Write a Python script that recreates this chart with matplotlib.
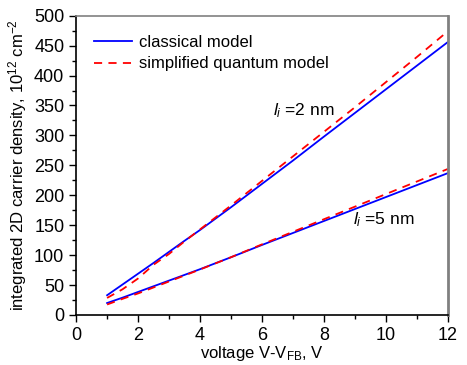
import matplotlib.pyplot as plt
from matplotlib.ticker import MultipleLocator

plt.rcParams['font.family'] = ['Liberation Sans', 'DejaVu Sans']
plt.rcParams['mathtext.fontset'] = 'custom'
plt.rcParams['mathtext.rm'] = 'Liberation Sans'
plt.rcParams['mathtext.it'] = 'Liberation Sans:italic'

# voltage V-V_FB, V
voltage = [1, 1.5, 2, 2.5, 3, 3.5, 4, 5, 6, 7, 8, 9, 10, 11, 12]

# integrated 2D carrier density, 1e12 cm^-2
classical_2nm = [33, 51, 69, 87, 105.5, 124, 142, 180, 219, 258, 298, 337.5, 377, 416.5, 456]
quantum_2nm = [28.5, 43, 61, 84, 102, 123, 143, 183, 224, 265, 306, 347, 389, 431, 474]
classical_5nm = [20, 29, 38.5, 48, 57.5, 67, 76.5, 96.5, 117, 137, 157, 177, 197, 217, 237]
quantum_5nm = [17.5, 27, 36, 46, 56, 66, 76, 96.5, 118, 139, 160, 181, 202, 223, 244]

fig = plt.figure(figsize=(4.67, 3.65), dpi=100)
ax = fig.add_axes([0.163, 0.137, 0.796, 0.820])

ax.plot(voltage, classical_2nm, color='#0000ff', lw=1.3, label='classical model')
ax.plot(voltage, quantum_2nm, color='#ff0000', lw=1.3, ls=(0, (4.5, 3.5)),
        label='simplified quantum model')
ax.plot(voltage, classical_5nm, color='#0000ff', lw=1.3)
ax.plot(voltage, quantum_5nm, color='#ff0000', lw=1.3, ls=(0, (4.5, 3.5)))

ax.set_xlim(0, 12)
ax.set_ylim(0, 500)
ax.xaxis.set_major_locator(MultipleLocator(2))
ax.xaxis.set_minor_locator(MultipleLocator(1))
ax.yaxis.set_major_locator(MultipleLocator(50))
ax.yaxis.set_minor_locator(MultipleLocator(25))
ax.tick_params(which='major', direction='out', length=5, width=1, labelsize=13)
ax.tick_params(which='minor', direction='out', length=3, width=1)

for s in ['top', 'right']:
    ax.spines[s].set_color('#808080')
ax.spines['right'].set_linewidth(2)
ax.spines['top'].set_linewidth(1.2)
ax.spines['left'].set_linewidth(1.2)
ax.spines['bottom'].set_linewidth(1.2)

ax.set_xlabel('voltage V-V$_\\mathrm{FB}$, V', fontsize=12, labelpad=0)
ax.set_ylabel('integrated 2D carrier density, 10$^{12}$ cm$^{-2}$', fontsize=12, labelpad=4)

ax.text(6.35, 342, '$l_i$ =2 nm', fontsize=12.5, va='center')
ax.text(8.94, 159, '$l_i$ =5 nm', fontsize=12.5, va='center')

ax.legend(loc='upper left', bbox_to_anchor=(0.02, 0.97), frameon=False, fontsize=12,
          handlelength=2.3, handletextpad=0.4, labelspacing=0.4, borderaxespad=0.2)

fig.savefig('out.png', dpi=100)
